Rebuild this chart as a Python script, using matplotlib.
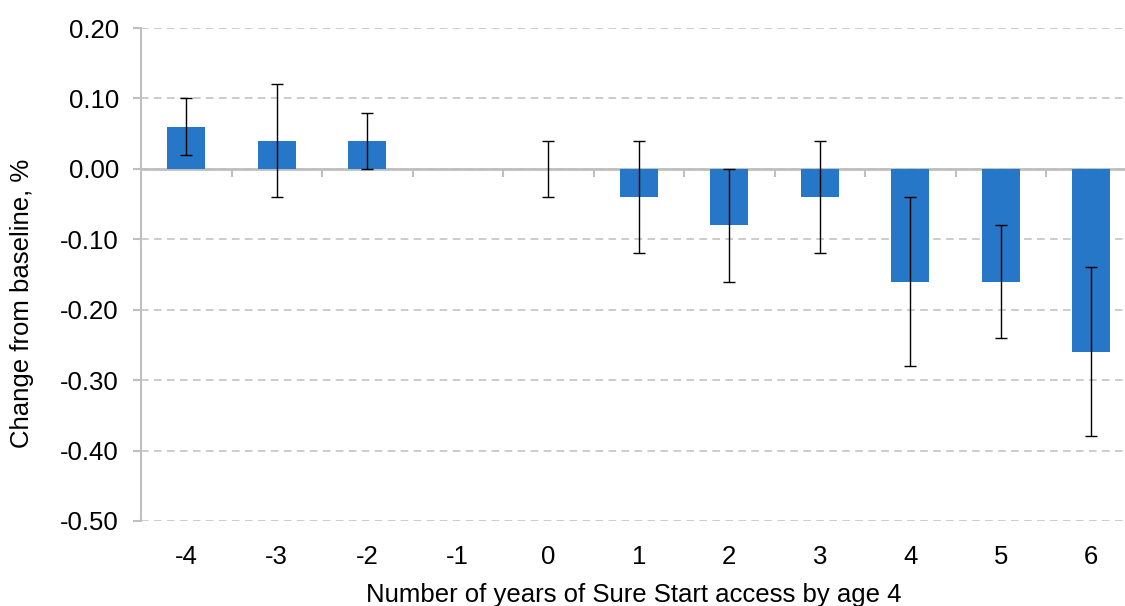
import numpy as np
import matplotlib
matplotlib.use('Agg')
from matplotlib import pyplot as plt

plt.rcParams['font.family'] = ['Liberation Sans', 'DejaVu Sans']

# categories: years of Sure Start access by age 4
years = ['-4', '-3', '-2', '-1', '0', '1', '2', '3', '4', '5', '6']
change = [0.06, 0.04, 0.04, np.nan, 0.00, -0.04, -0.08, -0.04, -0.16, -0.16, -0.26]
ci_low = [0.02, -0.04, 0.00, np.nan, -0.04, -0.12, -0.16, -0.12, -0.28, -0.24, -0.38]
ci_high = [0.10, 0.12, 0.08, np.nan, 0.04, 0.04, 0.00, 0.04, -0.04, -0.08, -0.14]
yticks = [0.20, 0.10, 0.00, -0.10, -0.20, -0.30, -0.40, -0.50]

barColor = '#2677C8'
gridColor = '#BFBFBF'
fs = 18.5

change = np.array(change)
errLow = change - np.array(ci_low)
errHigh = np.array(ci_high) - change
pos = np.arange(len(years))

fig = plt.figure(figsize=(11.25, 6.06), dpi=100)
ax = fig.add_axes([141 / 1125, 1 - 521 / 606, 1 - 141 / 1125, (521 - 28) / 606])

ax.bar(pos, np.nan_to_num(change), width=0.42, color=barColor, zorder=3)
ax.errorbar(pos, change, yerr=[errLow, errHigh], fmt='none', ecolor='black',
            elinewidth=1.0, capsize=4, capthick=1.0, zorder=4)

ax.set_ylim(-0.5, 0.2)
ax.set_xlim(-0.5, -0.5 + (1125 - 141) / 90.5)
ax.set_yticks(yticks)
ax.set_yticklabels(['%.2f' % v for v in yticks], fontsize=fs)
ax.yaxis.grid(True, color=gridColor, linewidth=1.1, linestyle=(0, (5, 3.5)), zorder=0)

for s in ['top', 'right']:
    ax.spines[s].set_visible(False)
ax.spines['left'].set_color(gridColor)
ax.spines['left'].set_linewidth(1.5)
ax.tick_params(axis='y', length=6, width=1.5, color=gridColor, pad=10)

# zero line with ticks at category boundaries
ax.spines['bottom'].set_position(('data', 0))
ax.spines['bottom'].set_color(gridColor)
ax.spines['bottom'].set_linewidth(2.0)
ax.spines['bottom'].set_zorder(2)
ax.set_xticks(pos)
ax.set_xticklabels([])
ax.set_xticks(pos[:-1] + 0.5, minor=True)
ax.tick_params(axis='x', which='major', length=0)
ax.tick_params(axis='x', which='minor', length=5.5, width=1.5, color=gridColor, direction='out')

# category labels at the bottom
cax = ax.secondary_xaxis('bottom')
cax.spines['bottom'].set_visible(False)
cax.set_xticks(pos)
cax.set_xticklabels(years, fontsize=fs)
cax.tick_params(axis='x', length=0, pad=17)

fig.text(22 / 1125, 1 - 303 / 606, 'Change from baseline, %', rotation=90,
         ha='center', va='center', fontsize=fs)
fig.text(634 / 1125, 1 - 595 / 606, 'Number of years of Sure Start access by age 4',
         ha='center', va='center', fontsize=fs)

fig.savefig('out.png', dpi=100)
